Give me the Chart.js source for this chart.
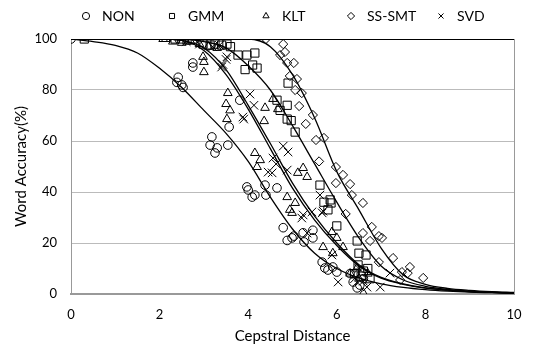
<!DOCTYPE html>
<html>
<head>
<meta charset="utf-8">
<script src="https://cdn.jsdelivr.net/npm/chart.js@4.4.1/dist/chart.umd.min.js"></script>
<style>
  body { margin: 0; background: #fff; }
  #wrap { width: 535px; height: 345px; }
</style>
</head>
<body>
<div id="wrap"><canvas id="chart" width="535" height="345"></canvas></div>
<script>
// measured points (x = cepstral distance, y = word accuracy %)
const nonX = [0, 2.39, 2.42, 2.5, 2.53, 2.75, 2.75, 3.14, 3.18, 3.3, 3.25, 3.54, 3.57, 3.81,
  3.97, 4.0, 4.09, 4.15, 4.4, 4.38, 4.65, 4.79, 4.88, 4.99, 5.03, 5.26, 5.46, 5.46, 5.24,
  5.67, 5.73, 5.8, 5.91, 6.0, 6.37, 6.46, 6.52, 6.3, 6.6];
const nonY = [100, 83, 85, 82, 81, 90.6, 89, 58.4, 61.6, 57.3, 55.3, 58.4, 65.5, 76,
  42, 40.8, 38, 38.8, 38.8, 42.7, 41.6, 26, 21, 22, 22.7, 20.4, 25, 22, 24,
  12.5, 10.2, 9.4, 10.6, 8.6, 4.7, 2.4, 3.5, 8, 6];

const gmmX = [0.3, 2.35, 2.5, 2.62, 2.75, 2.98, 3.14, 3.25, 3.4, 3.52, 3.6,
  3.77, 3.97, 4.15, 3.93, 4.1, 4.2, 4.9, 4.65, 4.72, 4.88, 4.88, 4.97, 5.06,
  5.62, 5.71, 5.85, 5.87, 5.8, 6.0, 6.46, 6.5, 6.66, 6.48, 6.4, 6.55, 6.6, 6.7, 6.75];
const gmmY = [100, 100, 100, 99.6, 100, 98, 97.6, 98, 97.6, 98, 97,
  93.7, 93.7, 94.5, 88, 89.8, 88.6, 82.7, 76, 72, 74, 68.6, 68, 63.5,
  42.7, 36, 36.9, 35.7, 33, 26.7, 20.8, 16, 15.3, 11.4, 8, 7, 9, 10, 6];

const kltX = [2.08, 2.14, 2.3, 2.5, 2.7, 2.9, 3.1, 3.3, 3.0, 3.0, 2.98,
  3.54, 3.5, 3.59, 3.52, 4.36, 4.38, 4.56, 4.67, 4.15, 4.27, 4.2, 5.12, 5.24, 5.33,
  4.88, 5.06, 4.94, 4.99, 5.89, 6.0, 5.69, 6.14, 5.91, 6.3, 6.45, 6.5, 6.6, 6.7];
const kltY = [100, 100, 99, 98.5, 99, 98, 97, 96.5, 91, 87, 93,
  78.8, 74.5, 72, 68.6, 67.8, 73, 76.5, 72.5, 55.3, 52.5, 49.8, 47.5, 49.4, 45.9,
  38, 35.7, 33, 31.8, 24.3, 22, 18.4, 18.4, 16, 8, 10, 6, 0.4, 8];

const smtX = [4.4, 4.79, 4.83, 4.72, 4.88, 5.03, 4.94, 5.1, 5.06, 5.21, 5.15, 5.46, 5.3,
  5.53, 5.71, 5.6, 5.98, 6.14, 5.98, 6.3, 6.34, 6.59, 6.2, 6.79, 6.59, 6.95, 7.02,
  6.75, 7.27, 6.95, 7.65, 7.47, 7.95, 7.6, 7.43];
const smtY = [100, 98, 94.9, 93.7, 90.6, 90.6, 85.5, 84.3, 80, 78.8, 73.7, 70.2, 66.7,
  60.4, 61.2, 52, 49.8, 46.7, 43.5, 43.1, 38.8, 35.7, 31.4, 26.3, 23.9, 22.7, 22,
  20.8, 14.1, 12.5, 10.6, 8.6, 6.3, 8.2, 5.5];

const svdX = [2.6, 2.9, 3.2, 3.35, 3.5, 3.43, 3.4, 3.52, 4.04, 4.13, 3.88, 3.9,
  4.79, 4.9, 4.56, 4.63, 4.45, 4.54, 4.88, 5.24, 5.44, 5.67, 5.21, 5.33, 5.62, 5.69,
  5.89, 6.03, 6.68, 6.98, 7.2, 6.4, 6.5, 6.6];
const svdY = [99, 98, 97, 97.5, 92, 90, 89, 93, 78.4, 74, 69.4, 68.6,
  58, 55.7, 53.3, 51, 47.8, 47.5, 48.6, 31, 32.2, 31.8, 29.8, 23.9, 38.8, 32.5,
  15.3, 4.7, 2.7, 2.7, 8.2, 6, 10, 5];

// fitted curves at 0.5 steps
const fitX = [0, 0.5, 1, 1.5, 2, 2.5, 3, 3.5, 4, 4.5, 5, 5.5, 6, 6.5, 7, 7.5, 8, 8.5, 9, 9.5, 10];
const nonFit = [100, 99, 97.5, 94.5, 88.5, 81, 72, 63, 52, 38, 25.5, 16, 10, 6.3, 4, 2.6, 1.7, 1.1, 0.7, 0.5, 0.3];
const kltFit = [100, 100, 100, 100, 100, 99.5, 95.5, 86, 72.5, 57, 41.5, 29, 19, 11, 6.2, 3.8, 2.3, 1.5, 0.9, 0.6, 0.4];
const svdFit = [100, 100, 100, 100, 100, 99.5, 96.5, 88, 74, 59, 43.5, 30.5, 20, 11.5, 6.5, 4, 2.4, 1.5, 0.9, 0.6, 0.4];
const gmmFit = [100, 100, 100, 100, 100, 100, 99, 96.5, 89.5, 80, 66, 51, 36, 22, 11, 5.5, 3, 1.8, 1.1, 0.7, 0.4];
const smtFit = [100, 100, 100, 100, 100, 100, 100, 100, 100, 97, 86, 69, 48, 33, 18, 7.5, 3.8, 2.2, 1.4, 0.9, 0.6];

const xTicks = [0, 2, 4, 6, 8, 10];
const yTicks = [0, 20, 40, 60, 80, 100];

const seriesNames = ["NON", "GMM", "KLT", "SS-SMT", "SVD"];
const seriesStyles = ["circle", "rect", "triangle", "rectRot", "crossRot"];

function pts(xs, ys) {
  return xs.map((x, i) => ({ x: x, y: ys[i] }));
}

function markers(label, xs, ys, style, r) {
  return {
    label: label,
    data: pts(xs, ys),
    showLine: false,
    pointStyle: style,
    pointRadius: r,
    pointBorderColor: "#000",
    pointBackgroundColor: "rgba(0,0,0,0)",
    pointBorderWidth: 1,
    borderColor: "#000",
    backgroundColor: "rgba(0,0,0,0)",
  };
}

function curve(ys) {
  return {
    label: "fit",
    data: pts(fitX, ys),
    showLine: true,
    pointRadius: 0,
    borderColor: "#000",
    borderWidth: 1.3,
    cubicInterpolationMode: "monotone",
    fill: false,
  };
}

// right edge and dark top line of the plot box
const frame = {
  id: "frame",
  beforeDatasetsDraw(chart) {
    const a = chart.chartArea;
    const c = chart.ctx;
    c.save();
    c.strokeStyle = "#999";
    c.lineWidth = 1;
    c.beginPath();
    c.moveTo(a.right + 0.5, a.top);
    c.lineTo(a.right + 0.5, a.bottom);
    c.stroke();
    c.strokeStyle = "#000";
    c.beginPath();
    c.moveTo(a.left, a.top + 0.5);
    c.lineTo(a.right, a.top + 0.5);
    c.stroke();
    c.restore();
  },
};

// legend laid out like the original (fixed slots along the top)
const legendSlots = [86, 172, 266, 351, 441];
const topLegend = {
  id: "topLegend",
  afterDraw(chart) {
    const c = chart.ctx;
    c.save();
    c.font = "14px Lato, 'Open Sans', sans-serif";
    c.textBaseline = "middle";
    seriesNames.forEach((name, i) => {
      c.strokeStyle = "#000";
      c.fillStyle = "rgba(0,0,0,0)";
      c.lineWidth = 1;
      Chart.helpers.drawPoint(c, { pointStyle: seriesStyles[i], radius: 3.6, rotation: 0, borderWidth: 1 }, legendSlots[i], 16);
      c.fillStyle = "#000";
      c.fillText(name, legendSlots[i] + 16, 16);
    });
    c.restore();
  },
};

Chart.defaults.font.family = "Lato, 'Open Sans', sans-serif";
Chart.defaults.color = "#222";

new Chart(document.getElementById("chart").getContext("2d"), {
  type: "scatter",
  data: {
    datasets: [
      markers(seriesNames[0], nonX, nonY, "circle", 4.3),
      markers(seriesNames[1], gmmX, gmmY, "rect", 5.8),
      markers(seriesNames[2], kltX, kltY, "triangle", 5),
      markers(seriesNames[3], smtX, smtY, "rectRot", 4.6),
      markers(seriesNames[4], svdX, svdY, "crossRot", 6),
      curve(nonFit),
      curve(kltFit),
      curve(svdFit),
      curve(gmmFit),
      curve(smtFit),
    ],
  },
  options: {
    responsive: false,
    animation: false,
    layout: { padding: { left: 0, right: 21, top: 39, bottom: 0 } },
    plugins: {
      legend: { display: false },
      tooltip: { enabled: false },
    },
    scales: {
      x: {
        type: "linear",
        min: 0,
        max: 10,
        afterBuildTicks: (s) => { s.ticks = xTicks.map((v) => ({ value: v })); },
        afterFit: (s) => { s.height = 51; },
        grid: { display: false },
        border: { display: true, color: "#999", width: 2 },
        ticks: { font: { size: 13 }, color: "#000", padding: 5 },
        title: { display: true, text: "Cepstral Distance", font: { size: 15 }, color: "#000", padding: { top: 9, bottom: 0 } },
      },
      y: {
        min: 0,
        max: 100,
        afterBuildTicks: (s) => { s.ticks = yTicks.map((v) => ({ value: v })); },
        afterFit: (s) => { s.width = 71; },
        grid: { color: "#bbb", drawTicks: false },
        border: { display: true, color: "#999", width: 1 },
        ticks: { font: { size: 13 }, color: "#000", padding: 14 },
        title: { display: true, text: "Word Accuracy(%)", font: { size: 15 }, color: "#000", padding: { top: 12, bottom: 2 } },
      },
    },
  },
  plugins: [frame, topLegend],
});
</script>
</body>
</html>
